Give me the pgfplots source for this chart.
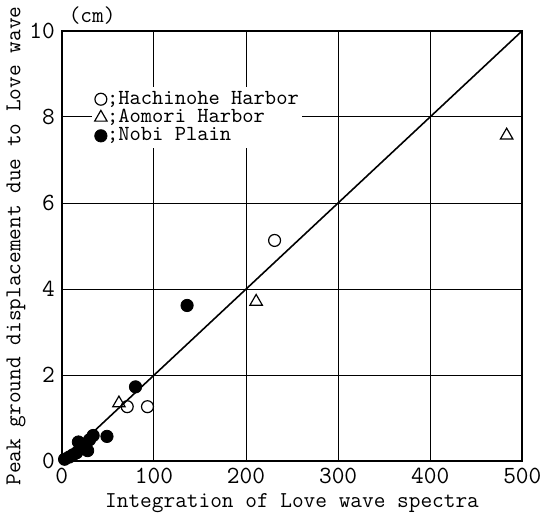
\documentclass[border=0pt]{standalone}
\usepackage{fontspec}
\usepackage{pgfplots}
\pgfplotsset{compat=1.18}

\begin{document}
\begin{tikzpicture}
\begin{axis}[
    scale only axis,
    width=231.5pt, height=216.5pt,
    xmin=0, xmax=500, ymin=0, ymax=10,
    xtick={0,100,...,500},
    ytick={0,2,...,10},
    grid=major,
    grid style={black, line width=0.45pt},
    axis line style={black, line width=0.9pt},
    major tick length=0pt,
    tick label style={font=\ttfamily\fontsize{12.4}{14}\selectfont},
    /pgf/number format/assume math mode=true,
    xlabel={Integration of Love wave spectra},
    ylabel={Peak ground displacement due to Love wave},
    label style={font=\ttfamily\fontsize{11.4}{13}\selectfont},
    xlabel style={yshift=2pt},
    ylabel style={yshift=-5pt},
    legend style={at={(axis cs:32,8.7)}, anchor=north west,
        draw=none, fill=white, font=\ttfamily\fontsize{10.8}{12}\selectfont,
        nodes={inner sep=0pt, text height=7pt, text depth=2.2pt},
        row sep=0pt, inner sep=1.5pt},
    legend cell align=left,
    legend image code/.code={\draw[#1] plot coordinates {(0.1cm,0cm)};},
    clip=false,
]
% fitted line
\addplot[black, line width=0.8pt, forget plot] coordinates {(0,0) (500,10)};
% Hachinohe Harbor
\addplot[only marks, mark=o, mark size=3pt, black, line width=0.6pt]
    coordinates {(231,5.13) (71,1.27) (93,1.27)};
% Aomori Harbor
\addplot[only marks, mark=triangle, mark size=3.6pt, black, line width=0.6pt]
    coordinates {(483,7.57) (211,3.71) (62,1.35)};
% Nobi Plain
\addplot[only marks, mark=*, mark size=3.1pt, black]
    coordinates {(3,0.05) (8,0.1) (12,0.15) (16,0.2) (20,0.3) (18,0.45)
                 (25,0.35) (28,0.25) (30,0.5) (34,0.6) (49,0.58) (80,1.73) (136,3.62)};
\legend{;Hachinohe Harbor, ;Aomori Harbor, ;Nobi Plain}
\node[anchor=south west, font=\ttfamily\fontsize{11.4}{13}\selectfont, inner sep=1pt]
    at (rel axis cs:0.01,1.01) {(cm)};
\end{axis}
\end{tikzpicture}
\end{document}
